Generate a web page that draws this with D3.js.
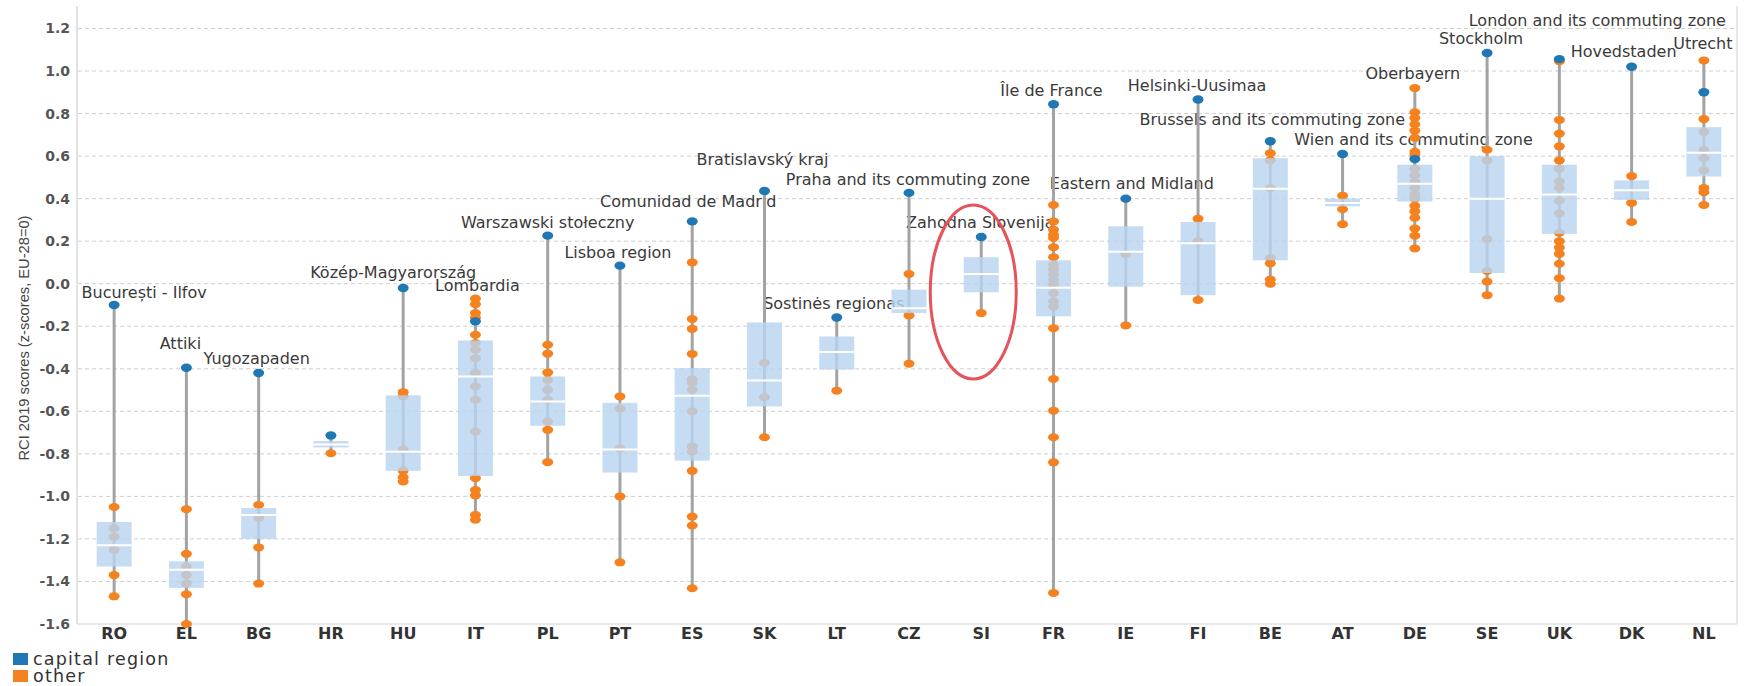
<!DOCTYPE html>
<html>
<head>
<meta charset="utf-8">
<script src="https://cdn.jsdelivr.net/npm/d3@7"></script>
<style>
  body { margin: 0; background: #fff; }
  #chart text { font-family: "DejaVu Sans", sans-serif; }
</style>
</head>
<body>
<div id="chart"></div>
<script>
// values (RCI 2019 z-scores)
var categories = ["RO","EL","BG","HR","HU","IT","PL","PT","ES","SK","LT","CZ","SI","FR","IE","FI","BE","AT","DE","SE","UK","DK","NL"];

var capital = [-0.10, -0.395, -0.42, -0.714, -0.02, -0.177, 0.226, 0.085, 0.293, 0.436, -0.159, 0.427, 0.22,
               0.844, 0.40, 0.866, 0.67, 0.61, 0.586, 1.085, 1.056, 1.02, 0.90];

var q3 =     [-1.12, -1.305, -1.055, -0.74, -0.525, -0.267, -0.436, -0.56, -0.397, -0.182, -0.248, -0.028, 0.125,
              0.11, 0.27, 0.29, 0.59, 0.40, 0.56, 0.60, 0.56, 0.486, 0.736];
var median = [-1.23, -1.345, -1.087, -0.756, -0.79, -0.436, -0.554, -0.78, -0.527, -0.455, -0.321, -0.115, 0.046,
              -0.019, 0.15, 0.19, 0.446, 0.38, 0.47, 0.40, 0.42, 0.44, 0.616];
var q1 =     [-1.33, -1.43, -1.20, -0.77, -0.88, -0.904, -0.668, -0.888, -0.832, -0.577, -0.404, -0.138, -0.04,
              -0.153, -0.014, -0.054, 0.11, 0.364, 0.386, 0.05, 0.234, 0.394, 0.504];

var others = [
  [-1.05, -1.15, -1.19, -1.25, -1.37, -1.47],
  [-1.06, -1.27, -1.33, -1.37, -1.41, -1.46, -1.60],
  [-1.04, -1.10, -1.24, -1.41],
  [-0.797],
  [-0.51, -0.53, -0.78, -0.88, -0.91, -0.93],
  [-0.07, -0.096, -0.138, -0.16, -0.24, -0.279, -0.31, -0.35, -0.42, -0.483, -0.546, -0.695, -0.914, -0.97, -0.995, -1.087, -1.11],
  [-0.287, -0.329, -0.417, -0.452, -0.499, -0.546, -0.648, -0.687, -0.839],
  [-0.53, -0.587, -0.774, -1.0, -1.31],
  [0.10, -0.166, -0.212, -0.33, -0.449, -0.467, -0.499, -0.60, -0.765, -0.789, -0.88, -1.095, -1.137, -1.432],
  [-0.373, -0.534, -0.722],
  [-0.503],
  [0.046, -0.149, -0.376],
  [-0.138],
  [0.37, 0.293, 0.254, 0.23, 0.215, 0.172, 0.125, 0.089, 0.066, 0.042, 0.019, -0.005, -0.044, -0.083, -0.107, -0.209, -0.448, -0.597, -0.722, -0.84, -1.454],
  [0.14, -0.196],
  [0.306, 0.20, -0.076],
  [0.614, 0.58, 0.45, 0.12, 0.096, 0.02, 0.0],
  [0.414, 0.35, 0.28],
  [0.92, 0.806, 0.78, 0.75, 0.72, 0.686, 0.62, 0.606, 0.54, 0.51, 0.48, 0.45, 0.42, 0.40, 0.366, 0.34, 0.31, 0.26, 0.226, 0.166],
  [0.63, 0.58, 0.21, 0.06, 0.01, -0.054],
  [1.046, 0.77, 0.706, 0.646, 0.58, 0.54, 0.48, 0.45, 0.39, 0.33, 0.24, 0.20, 0.17, 0.14, 0.094, 0.026, -0.07],
  [0.506, 0.38, 0.29],
  [1.05, 0.774, 0.714, 0.63, 0.59, 0.534, 0.45, 0.43, 0.37]
];

var regionNames = ["București - Ilfov", "Attiki", "Yugozapaden", null, "Közép-Magyarország", "Lombardia",
  "Warszawski stołeczny", "Lisboa region", "Comunidad de Madrid", "Bratislavský kraj", "Sostinės regionas",
  "Praha and its commuting zone", "Zahodna Slovenija", "Île de France", "Eastern and Midland", "Helsinki-Uusimaa",
  "Brussels and its commuting zone", "Wien and its commuting zone", "Oberbayern", "Stockholm",
  "London and its commuting zone", "Hovedstaden", "Utrecht"];

var yTicks = [-1.6, -1.4, -1.2, -1.0, -0.8, -0.6, -0.4, -0.2, 0.0, 0.2, 0.4, 0.6, 0.8, 1.0, 1.2];
var yTickLabels = ["-1.6","-1.4","-1.2","-1.0","-0.8","-0.6","-0.4","-0.2","0.0","0.2","0.4","0.6","0.8","1.0","1.2"];

var legendItems = ["capital region", "other"];
var highlight = "SI";

// label placement: [dx in px from band centre, level in score units]
var labelPlace = [[30,-0.038],[-6,-0.28],[-2,-0.35],null,[-10,0.056],[2,-0.006],[0,0.29],[-2,0.15],[-4,0.39],
  [-2,0.585],[-3,-0.092],[-1,0.49],[-1,0.287],[-2,0.91],[6,0.472],[-1,0.935],[2,0.775],[71,0.678],[-2,0.99],
  [-6,1.154],[38,1.24],[-8,1.094],[-1,1.133]];


BoxChart = function(_parentElement) {
  var vis = this;
  vis.parentElement = _parentElement;
  vis.initVis();
}

BoxChart.prototype.initVis = function() {
  var vis = this;

  vis.width = 1746;
  vis.height = 686;
  vis.blue = "#1f77b4";
  vis.orange = "#f5821f";

  vis.x = d3.scaleBand().domain(categories).range([78, 1740]);
  vis.y = d3.scaleLinear().domain([-1.6, 1.2]).range([624, 28.5]);

  vis.svg = d3.select("#" + vis.parentElement).append("svg")
    .attr("width", vis.width)
    .attr("height", vis.height);

  vis.wrangleData();
}

BoxChart.prototype.wrangleData = function() {
  var vis = this;
  vis.data = categories.map(function(c, i) {
    var all = others[i].concat([capital[i]]);
    return {
      cat: c, capital: capital[i], others: others[i],
      q1: q1[i], median: median[i], q3: q3[i],
      min: d3.min(all), max: d3.max(all),
      name: regionNames[i], place: labelPlace[i]
    };
  });
  vis.updateVis();
}

BoxChart.prototype.updateVis = function() {
  var vis = this;
  var x = vis.x, y = vis.y, svg = vis.svg;
  var cx = function(d) { return x(d.cat) + x.bandwidth() / 2; };
  var boxW = 35;

  // grid
  svg.append("g").selectAll("line")
    .data(yTicks.filter(function(t) { return t > -1.6; }))
    .enter().append("line")
    .attr("x1", 78).attr("x2", 1737)
    .attr("y1", function(d) { return y(d); })
    .attr("y2", function(d) { return y(d); })
    .style("stroke", "#cfcfcf")
    .style("stroke-dasharray", "4,3");

  // frame
  svg.append("line").attr("x1", 77).attr("x2", 77).attr("y1", 6).attr("y2", 624)
    .style("stroke", "#e2e2e2").style("stroke-width", 2);
  svg.append("line").attr("x1", 1737).attr("x2", 1737).attr("y1", 6).attr("y2", 624)
    .style("stroke", "#e8e8e8").style("stroke-width", 2);
  svg.append("line").attr("x1", 77).attr("x2", 1737).attr("y1", 624).attr("y2", 624)
    .style("stroke", "#e2e2e2").style("stroke-width", 1.5);

  // axes
  var yAxis = d3.axisLeft(y).tickValues(yTicks).tickSize(0).tickPadding(7)
    .tickFormat(function(d, i) { return yTickLabels[i]; });
  var gy = svg.append("g").attr("transform", "translate(77,0)").call(yAxis);
  gy.select(".domain").remove();
  gy.selectAll("text").style("font-size", "14px").style("font-weight", "bold").style("fill", "#555");

  var xAxis = d3.axisBottom(x).tickSize(0).tickPadding(4);
  var gx = svg.append("g").attr("transform", "translate(0,624)").call(xAxis);
  gx.select(".domain").remove();
  gx.selectAll("text").style("font-size", "16px").style("font-weight", "bold").style("fill", "#333");

  svg.append("text")
    .attr("transform", "translate(29,338) rotate(-90)")
    .attr("text-anchor", "middle")
    .attr("textLength", 245)
    .attr("lengthAdjust", "spacingAndGlyphs")
    .style("font-family", "'Liberation Sans Narrow', 'Liberation Sans', sans-serif")
    .style("font-size", "14px")
    .style("fill", "#444")
    .text("RCI 2019 scores (z-scores, EU-28=0)");

  // region labels (drawn under the boxes)
  svg.append("g").selectAll("text")
    .data(vis.data.filter(function(d) { return d.name; }))
    .enter().append("text")
    .attr("x", function(d) { return cx(d) + d.place[0]; })
    .attr("y", function(d) { return y(d.place[1]); })
    .attr("dy", "0.36em")
    .attr("text-anchor", "middle")
    .style("font-size", "16px")
    .style("fill", "#3a3a3a")
    .text(function(d) { return d.name; });

  var groups = svg.append("g").selectAll("g")
    .data(vis.data)
    .enter().append("g");

  // range line
  groups.append("line")
    .attr("x1", cx).attr("x2", cx)
    .attr("y1", function(d) { return y(d.max); })
    .attr("y2", function(d) { return y(d.min); })
    .style("stroke", "#a3a3a3")
    .style("stroke-width", 3);

  // other regions
  groups.selectAll(".other")
    .data(function(d) { return d.others.map(function(v) { return {cat: d.cat, v: v}; }); })
    .enter().append("ellipse")
    .attr("class", "other")
    .attr("cx", cx)
    .attr("cy", function(d) { return y(d.v); })
    .attr("rx", 5.5).attr("ry", 4)
    .style("fill", vis.orange);

  // capital region
  groups.append("ellipse")
    .attr("cx", cx)
    .attr("cy", function(d) { return y(d.capital); })
    .attr("rx", 5.5).attr("ry", 4.2)
    .style("fill", vis.blue);

  // box
  groups.append("rect")
    .attr("x", function(d) { return cx(d) - boxW / 2; })
    .attr("width", boxW)
    .attr("y", function(d) { return y(d.q3); })
    .attr("height", function(d) { return Math.max(2, y(d.q1) - y(d.q3)); })
    .style("fill", "rgb(185,212,240)")
    .style("opacity", 0.82);

  groups.append("line")
    .attr("x1", function(d) { return cx(d) - boxW / 2; })
    .attr("x2", function(d) { return cx(d) + boxW / 2; })
    .attr("y1", function(d) { return y(d.median); })
    .attr("y2", function(d) { return y(d.median); })
    .style("stroke", "#fff")
    .style("stroke-width", 2);

  // red highlight ring
  svg.append("ellipse")
    .attr("cx", x(highlight) + x.bandwidth() / 2 - 8)
    .attr("cy", y(-0.039))
    .attr("rx", 43).attr("ry", 87)
    .style("fill", "none")
    .style("stroke", "#e5535d")
    .style("stroke-width", 3);

  // legend
  var leg = svg.append("g").selectAll("g")
    .data(legendItems)
    .enter().append("g")
    .attr("transform", function(d, i) { return "translate(13," + (653 + i * 17) + ")"; });
  leg.append("rect")
    .attr("width", 15).attr("height", 12)
    .style("fill", function(d, i) { return i == 0 ? vis.blue : vis.orange; });
  leg.append("text")
    .attr("x", 20).attr("y", 6).attr("dy", "0.35em")
    .style("font-size", "17.5px")
    .style("letter-spacing", "1.2px")
    .style("fill", "#333")
    .text(function(d) { return d; });
}

new BoxChart("chart");
</script>
</body>
</html>
